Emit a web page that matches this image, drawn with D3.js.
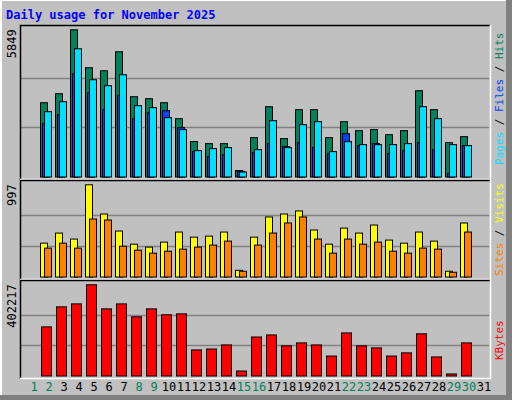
<!DOCTYPE html>
<html><head><meta charset="utf-8">
<script src="https://cdn.jsdelivr.net/npm/d3@7"></script>
<style>body{margin:0;background:#fff}svg{display:block}text{font-family:"DejaVu Sans Mono",monospace}</style>
</head><body>
<script>
const days = d3.range(1, 32);
const weekendDays = [1,2,8,9,15,16,22,23,29,30];
const hits  = [0,2952,3309,5849,4341,4222,4976,3190,3111,2952,2317,1405,1325,1325,254,1563,2793,1524,2674,2674,1563,2198,1841,1881,1682,1841,3428,2674,1365,1603,0];
const files = [0,2119,2476,4103,3349,2674,3230,2317,2555,2635,1960,1008,809,889,226,968,1325,1206,1365,1167,929,1722,1246,1325,929,1048,1365,1087,135,1246,0];
const pages = [0,2595,2992,5095,3865,3627,4063,2833,2754,2357,1881,1048,1127,1167,198,1087,2238,1167,2079,2198,1008,1405,1286,1286,1286,1325,2793,2317,1286,1246,0];
const visits= [0,366,475,410,997,681,497,355,323,377,486,431,442,486,72,431,649,681,714,508,355,529,475,562,399,366,486,388,62,584,0];
const sites = [0,312,366,312,627,616,333,290,258,279,301,323,345,388,62,345,475,584,649,410,258,410,355,377,279,258,312,301,51,486,0];
const kbytes= [0,216580,305000,318000,402217,296000,318000,261000,296000,270000,274000,115000,119000,137000,22000,172000,181000,133000,146000,137000,88000,190000,133000,124000,88000,102000,186000,84000,9000,146000,0];
const maxHits = 5849, maxVisits = 997, maxKB = 402217;

const svg = d3.select("body").append("svg").attr("width",512).attr("height",400);
svg.append("rect").attr("width",512).attr("height",400).attr("fill","#c0c0c0");
svg.append("path").attr("d","M0,0H512").attr("stroke","#fff").attr("stroke-width",2);
svg.append("path").attr("d","M1,0V400").attr("stroke","#fff").attr("stroke-width",2);
svg.append("rect").attr("x",506).attr("y",0).attr("width",6).attr("height",400).attr("fill","#808080");
svg.append("rect").attr("x",0).attr("y",395).attr("width",512).attr("height",5).attr("fill","#808080");

svg.append("text").attr("x",6).attr("y",19).attr("fill","#0000ff").attr("font-weight","bold")
  .attr("font-size",12).text("Daily usage for November 2025");

const x = d3.scaleLinear().domain([1,31]).range([25,475]);

function panel(top, bottom, plotTop, max, maxLabel, labels, labelStart) {
  svg.append("rect").attr("x",20).attr("y",top).attr("width",470).attr("height",bottom-top).attr("fill","#c0c0c0");
  const y = d3.scaleLinear().domain([0,max]).range([bottom-3.5, plotTop]);
  [max/3, 2*max/3].forEach(v=>{
    svg.append("line").attr("x1",21).attr("x2",489).attr("y1",Math.round(y(v))+0.5).attr("y2",Math.round(y(v))+0.5)
      .attr("stroke","#808080").attr("stroke-width",1.5);
  });
  svg.append("path").attr("d",`M20.5,${bottom}V${top+0.5}H490`).attr("stroke","#000").attr("fill","none").attr("stroke-width",1.5);
  svg.append("path").attr("d",`M490.5,${top}V${bottom-0.5}H20`).attr("stroke","#fff").attr("fill","none").attr("stroke-width",1.5);
  svg.append("text").attr("transform",`translate(16,${plotTop}) rotate(-90)`).attr("text-anchor","end")
    .attr("font-size",12).attr("fill","#000").text(maxLabel);
  const t = svg.append("text").attr("transform",`translate(503,${labelStart}) rotate(-90)`)
    .attr("font-size",11);
  labels.forEach((l,i)=>{
    if(i>0) t.append("tspan").attr("fill","#000").text(" / ");
    t.append("tspan").attr("fill",l[1]).text(l[0]);
  });
  return y;
}
function bars(y, data, dx, w, color) {
  svg.append("g").selectAll("rect").data(days.filter(d=>data[d-1]>0)).join("rect")
    .attr("x",d=>x(d)+dx+0.5).attr("width",w)
    .attr("y",d=>y(data[d-1])+0.5).attr("height",d=>y(0)-y(data[d-1]))
    .attr("fill",color).attr("stroke","#000").attr("stroke-width",1);
}

const y1 = panel(25,180,29.3,maxHits,"5849",[["Pages","#00e0ff"],["Files","#0040ff"],["Hits","#00805c"]],165);
bars(y1,hits,0,7,"#00805c");
bars(y1,files,2,7,"#0040ff");
bars(y1,pages,4,7,"#00e0ff");

const y2 = panel(180,280,184.3,maxVisits,"997",[["Sites","#ff8000"],["Visits","#ffff00"]],276);
bars(y2,visits,0,7,"#ffff00");
bars(y2,sites,4,7,"#ff8000");

const y3 = panel(280,379,284.3,maxKB,"402217",[["KBytes","#ff0000"]],360);
bars(y3,kbytes,1,10,"#ff0000");

svg.append("g").selectAll("text").data(days).join("text")
  .attr("x",d=>x(d)+9).attr("y",391).attr("text-anchor","middle").attr("font-size",12)
  .attr("fill",d=>weekendDays.includes(d)?"#00805c":"#000").text(d=>d);
</script>
</body></html>
